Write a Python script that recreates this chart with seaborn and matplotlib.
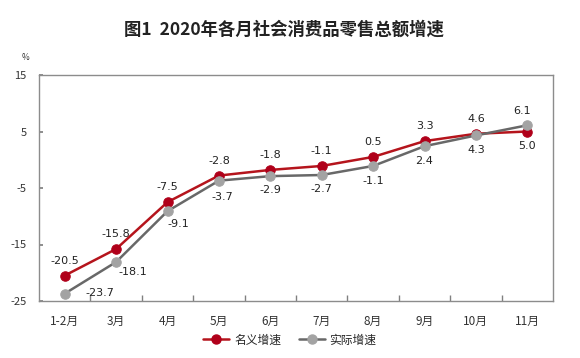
import matplotlib
matplotlib.use("Agg")
import matplotlib.pyplot as plt
import seaborn as sns
import pandas as pd
import numpy as np
from matplotlib.ticker import FixedLocator
from matplotlib.lines import Line2D

months = ["1-2月", "3月", "4月", "5月", "6月", "7月", "8月", "9月", "10月", "11月"]
nominal = [-20.5, -15.8, -7.5, -2.8, -1.8, -1.1, 0.5, 3.3, 4.6, 5.0]
real = [-23.7, -18.1, -9.1, -3.7, -2.9, -2.7, -1.1, 2.4, 4.3, 6.1]
series_names = ["名义增速", "实际增速"]
yticks = [15, 5, -5, -15, -25]

sns.set_theme(style="white")
plt.rcParams['font.family'] = ['Noto Sans CJK SC', 'DejaVu Sans']

pos = np.arange(len(months))
df = pd.DataFrame({
    "pos": np.concatenate([pos, pos]),
    "value": nominal + real,
    "series": [series_names[0]] * len(months) + [series_names[1]] * len(months),
})

fig = plt.figure(figsize=(5.8, 3.58), dpi=100)
ax = fig.add_axes([39/580, 1-301/358, (553-39)/580, (301-75)/358])

red_line = "#B5141C"
red_mark = "#B0001A"
grey_line = "#686868"
grey_mark = "#A3A3A3"

sns.lineplot(data=df[df.series == series_names[0]], x="pos", y="value", ax=ax,
             color=red_line, lw=1.8, marker="o", markersize=6.8,
             markerfacecolor=red_mark, markeredgecolor=red_mark, zorder=3, legend=False)
sns.lineplot(data=df[df.series == series_names[1]], x="pos", y="value", ax=ax,
             color=grey_line, lw=1.8, marker="o", markersize=6.8,
             markerfacecolor=grey_mark, markeredgecolor=grey_mark, zorder=4, legend=False)

ax.set_xlim(-0.5, len(months) - 0.5)
ax.set_ylim(-25, 15)
ax.set_yticks(yticks)
ax.set_yticklabels([str(v) for v in yticks], fontsize=8, color="#333333")
ax.set_xticks(pos)
ax.set_xticklabels(months, fontsize=8.5, color="#333333")
ax.xaxis.set_minor_locator(FixedLocator(np.arange(0.5, len(months) - 0.5, 1)))
ax.tick_params(axis="x", which="major", length=0, pad=10)
ax.tick_params(axis="x", which="minor", length=4, direction="in", color="#808080", bottom=True)
ax.tick_params(axis="y", which="major", length=3, direction="in", color="#808080", left=True, pad=9)
for s in ax.spines.values():
    s.set_color("#8c8c8c")
    s.set_linewidth(1.0)
ax.set_xlabel("")
ax.set_ylabel("")
ax.grid(False)

lab_font = dict(fontsize=8, color="#222222", family="DejaVu Sans")
for i, v in enumerate(nominal):
    dx, dy = 0, 15
    if i == len(months) - 1:
        dy = -14
    ax.annotate(f"{v:.1f}", (pos[i], v), textcoords="offset pixels", xytext=(dx, dy),
                ha="center", va="center", **lab_font)
real_offsets = [(35, 1), (17, -10), (11, -13), (3, -16), (0, -14), (0, -14), (0, -15),
                (0, -15), (0, -15), (-5, 14)]
for i, v in enumerate(real):
    dx, dy = real_offsets[i]
    ax.annotate(f"{v:.1f}", (pos[i], v), textcoords="offset pixels", xytext=(dx, dy),
                ha="center", va="center", **lab_font)

fig.text(0.49, 1 - 30/358, "图1  2020年各月社会消费品零售总额增速", ha="center", va="center",
         fontsize=12.5, fontweight="bold", color="#222222")
fig.text(25/580, 1 - 58/358, "%", ha="center", va="center", fontsize=6, color="#333333")

handles = [
    Line2D([], [], color=red_line, lw=1.8, marker="o", markersize=6.5,
           markerfacecolor=red_mark, markeredgecolor=red_mark),
    Line2D([], [], color=grey_line, lw=1.8, marker="o", markersize=6.5,
           markerfacecolor=grey_mark, markeredgecolor=grey_mark),
]
fig.legend(handles, series_names, loc="center", bbox_to_anchor=(0.5, 1 - 340/358),
           ncol=2, frameon=False, fontsize=8.5, handlelength=2.2, columnspacing=1.5,
           handletextpad=0.4)

fig.savefig("out.png", dpi=100, facecolor="white")
